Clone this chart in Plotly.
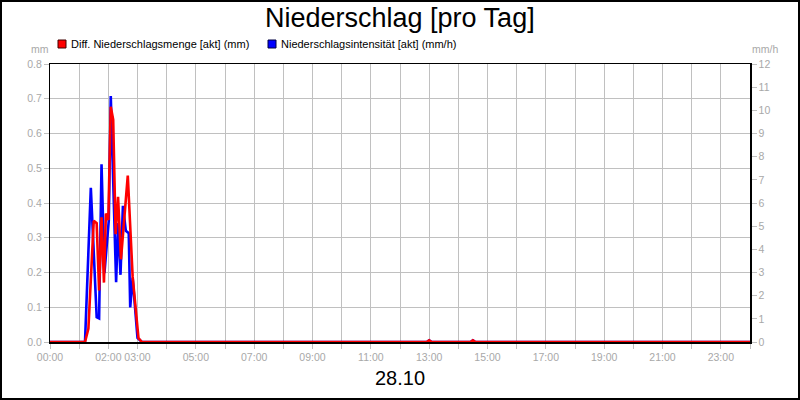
import plotly.graph_objects as go

# ---- data ----
red_times = ["00:00", "01:12", "01:19", "01:30", "01:36", "01:41", "01:46", "01:51", "01:55",
             "02:00", "02:05", "02:10", "02:15", "02:20", "02:26", "02:40", "02:50", "03:02",
             "03:09", "12:55", "13:00", "13:05", "14:25", "14:30", "14:35", "24:00"]
red_values = [0, 0, 0.039, 0.349, 0.342, 0.148, 0.359, 0.171, 0.37,
              0.351, 0.677, 0.64, 0.31, 0.418, 0.238, 0.479, 0.188, 0.011,
              0, 0, 0.005, 0, 0, 0.005, 0, 0]

blue_times = ["00:00", "01:12", "01:24", "01:36", "01:41", "01:46", "01:52", "02:01", "02:05",
              "02:16", "02:20", "02:25", "02:30", "02:36", "02:42", "02:45", "02:50", "03:00",
              "03:09", "12:55", "13:00", "13:05", "14:25", "14:30", "14:35", "24:00"]
blue_values = [0, 0, 6.66, 1.07, 1.02, 7.67, 2.97, 5.27, 10.62,
               2.58, 5.13, 2.90, 5.88, 4.8, 4.7, 1.49, 2.78, 0.18,
               0, 0, 0.075, 0, 0, 0.075, 0, 0]

hour_ticks = list(range(0, 25))
labelled_hours = [0, 2, 3, 5, 7, 9, 11, 13, 15, 17, 19, 21, 23]
left_ticks = [0.0, 0.1, 0.2, 0.3, 0.4, 0.5, 0.6, 0.7, 0.8]
right_ticks = list(range(0, 13))

title_text = "Niederschlag [pro Tag]"
red_name = "Diff. Niederschlagsmenge [akt] (mm)"
blue_name = "Niederschlagsintensität [akt] (mm/h)"
date_label = "28.10"


def to_hours(t):
    h, m = t.split(":")
    return int(h) + int(m) / 60.0


W, H = 800, 400
L, R, T, B = 50, 750, 64, 342  # plot area pixel box


def px(x):
    return (x - L) / (R - L)


def py(y):
    return (B - y) / (B - T)


FONT = "Liberation Sans"
GRAY = "#a8a8a8"
GRID = "#c0c0c0"

fig = go.Figure()
# blue (mm/h) on the base axis (right side), red (mm) on the overlaying axis so it draws on top
fig.add_trace(go.Scatter(x=[to_hours(t) for t in blue_times], y=blue_values, yaxis="y",
                         mode="lines", line=dict(color="#0000ff", width=2.6),
                         name=blue_name, showlegend=False))
fig.add_trace(go.Scatter(x=[to_hours(t) for t in red_times], y=red_values, yaxis="y2",
                         mode="lines", line=dict(color="#ff0000", width=2.6),
                         name=red_name, showlegend=False))

ticktext = [(f"{h:02d}:00" if h in labelled_hours else "") for h in hour_ticks]

fig.update_layout(
    width=W, height=H, autosize=False,
    margin=dict(l=L, r=W - R, t=T, b=H - B, pad=0),
    paper_bgcolor="white", plot_bgcolor="white",
    font=dict(family=FONT, size=11, color="black"),
    xaxis=dict(range=[0, 24], tickmode="array", tickvals=hour_ticks, ticktext=ticktext,
               showgrid=True, gridcolor=GRID, gridwidth=1, zeroline=False,
               ticks="outside", ticklen=5, tickcolor=GRID, tickwidth=1,
               tickfont=dict(family=FONT, size=10.5, color=GRAY),
               showline=True, linecolor="black", linewidth=1.5, mirror=True,
               fixedrange=True),
    yaxis=dict(range=[0, 12], side="right", tickmode="array",
               tickvals=right_ticks, showgrid=False, zeroline=False,
               ticks="outside", ticklen=5, tickcolor=GRID, tickwidth=1,
               tickfont=dict(family=FONT, size=10.5, color=GRAY),
               showline=True, linecolor="black", linewidth=1.5, mirror=True,
               fixedrange=True),
    yaxis2=dict(range=[0, 0.8], overlaying="y", side="left", tickmode="array",
                tickvals=left_ticks, ticktext=[f"{v:.1f}" for v in left_ticks],
                showgrid=True, gridcolor=GRID, gridwidth=1, zeroline=False,
                ticks="outside", ticklen=5, tickcolor=GRID, tickwidth=1,
                tickfont=dict(family=FONT, size=10.5, color=GRAY),
                showline=False, fixedrange=True),
)

annotations = [
    dict(text=title_text, x=px(400), y=py(18), font=dict(size=27, color="black", family=FONT)),
    dict(text=red_name, x=px(69), y=py(44), xanchor="left", font=dict(size=11, color="black", family=FONT)),
    dict(text=blue_name, x=px(279), y=py(44), xanchor="left", font=dict(size=11, color="black", family=FONT)),
    dict(text="mm", x=px(40), y=py(49), font=dict(size=10.5, color=GRAY, family=FONT)),
    dict(text="mm/h", x=px(765), y=py(49), font=dict(size=10.5, color=GRAY, family=FONT)),
    dict(text=date_label, x=px(400), y=py(378), font=dict(size=20, color="black", family=FONT)),
]
for a in annotations:
    a.update(xref="paper", yref="paper", showarrow=False, yanchor="middle",
             xanchor=a.get("xanchor", "center"))
fig.update_layout(annotations=annotations)

shapes = [
    dict(type="rect", xref="paper", yref="paper", x0=px(1), x1=px(799), y0=py(399), y1=py(1),
         line=dict(color="black", width=2), fillcolor="rgba(0,0,0,0)", layer="above"),
    dict(type="rect", xref="paper", yref="paper", x0=px(58), x1=px(66), y0=py(48), y1=py(40),
         line=dict(color="#400000", width=1), fillcolor="#ff0000"),
    dict(type="rect", xref="paper", yref="paper", x0=px(268), x1=px(276), y0=py(48), y1=py(40),
         line=dict(color="#000040", width=1), fillcolor="#0000ff"),
]
fig.update_layout(shapes=shapes)

fig.write_html("out.html", config={"displayModeBar": False, "staticPlot": True},
               post_script="document.body.style.margin='0';")
